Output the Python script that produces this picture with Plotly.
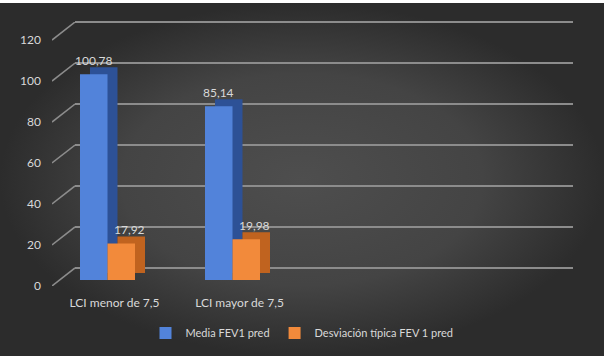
import plotly.graph_objects as go

# ---------------- data ----------------
categories = ["LCI menor de 7,5", "LCI mayor de 7,5"]
series_names = ["Media FEV1 pred", "Desviación típica FEV 1 pred"]
media_fev1 = [100.78, 85.14]
desv_fev1 = [17.92, 19.98]
y_ticks = [0, 20, 40, 60, 80, 100, 120]

# ---------------- style ----------------
W, H = 604, 356
FONT = "Lato"
TXT = "#d9d9d9"
GRID = "#8c8c8c"
FRONT = ["#5283da", "#f28a3b"]
SIDE = ["#2d5196", "#c0631f"]
LABEL_XSHIFT = [-14, 22]
LABEL_YSHIFT = 14


def px(a):
    return a / W


def py(b):
    return 1 - b / H


fig = go.Figure()

# background gradient (subplot x/y)
fig.add_trace(go.Scatter(
    x=[0, 1, 1, 0, 0], y=[0, 0, 1, 1, 0], mode="lines", fill="toself",
    line=dict(width=0), hoverinfo="skip", showlegend=False,
    fillgradient=dict(type="radial",
                      colorscale=[[0, "#4e4e4e"], [0.6, "#444444"], [1, "#2c2c2c"]]),
    xaxis="x", yaxis="y"))

# back wall grid (x2/y2)
back_scale = (268 - 22) / 120
fig.add_trace(go.Scatter(x=[0], y=[0], mode="markers", marker=dict(opacity=0),
                         hoverinfo="skip", showlegend=False, xaxis="x2", yaxis="y2"))

# depth (3D side/top) bars (x3/y3)
for vals, col in zip([media_fev1, desv_fev1], SIDE):
    fig.add_trace(go.Bar(x=categories, y=vals, marker=dict(color=col, line=dict(width=0)),
                         showlegend=False, hoverinfo="skip", xaxis="x3", yaxis="y3"))

# front bars (x4/y4)
for name, vals, col in zip(series_names, [media_fev1, desv_fev1], FRONT):
    fig.add_trace(go.Bar(x=categories, y=vals, name=name,
                         marker=dict(color=col, line=dict(width=0)),
                         xaxis="x4", yaxis="y4"))

# value labels
annotations = []
for vals, xs in zip([media_fev1, desv_fev1], LABEL_XSHIFT):
    for c, v in zip(categories, vals):
        annotations.append(dict(
            x=c, y=v, xref="x4", yref="y4", text=f"{v:.2f}".replace(".", ","),
            showarrow=False, xshift=xs, yshift=LABEL_YSHIFT, yanchor="middle",
            font=dict(family=FONT, size=12, color=TXT)))

# front axis labels + diagonal connectors (x5/y5)
depth_units = 18 / (245 / 120)
cx, cy = [], []
for v in y_ticks:
    cx += [0, 1, None]
    cy += [v, v + depth_units, None]
fig.add_trace(go.Scatter(x=cx, y=cy, mode="lines", line=dict(color=GRID, width=1.5),
                         hoverinfo="skip", showlegend=False, cliponaxis=False,
                         xaxis="x5", yaxis="y5"))

hidden = dict(showgrid=False, zeroline=False, showticklabels=False, showline=False,
              ticks="", automargin=False)
pad = 2  # units of extra range so edge gridlines are drawn

fig.update_layout(
    width=W, height=H, margin=dict(l=0, r=0, t=0, b=0, autoexpand=False),
    paper_bgcolor="white", plot_bgcolor="rgba(0,0,0,0)",
    barmode="group", bargap=0.56, bargroupgap=0,
    font=dict(family=FONT, size=12, color=TXT),
    separators=",.",
    xaxis=dict(domain=[0, 1], range=[0, 1], anchor="y", **hidden),
    yaxis=dict(domain=[0, py(3)], range=[0, 1], anchor="x", **hidden),
    xaxis2=dict(domain=[px(75), px(573)], range=[0, 1], anchor="y2", **hidden),
    yaxis2=dict(domain=[py(268 + pad * back_scale), py(22 - pad * back_scale)],
                range=[-pad, 120 + pad], anchor="x2",
                showgrid=True, gridcolor=GRID, gridwidth=1.5,
                tickmode="array", tickvals=y_ticks,
                zeroline=False, showticklabels=False, showline=False, ticks="",
                automargin=False),
    xaxis3=dict(domain=[px(55), px(555)], range=[-0.5, 3.5], anchor="y3", **hidden),
    yaxis3=dict(domain=[py(273), py(28)], range=[0, 120], anchor="x3", **hidden),
    xaxis4=dict(domain=[px(45), px(545)], range=[-0.5, 3.5], anchor="y4",
                showgrid=False, zeroline=False, showline=False, ticks="",
                tickfont=dict(family=FONT, size=12, color=TXT),
                ticklabelstandoff=14, ticklabelshift=7, automargin=False),
    yaxis4=dict(domain=[py(280), py(35)], range=[0, 120], anchor="x4", **hidden),
    xaxis5=dict(domain=[px(52), px(75)], range=[0, 1], anchor="y5", **hidden),
    yaxis5=dict(domain=[py(286), py(22)], range=[0, 120 + depth_units], anchor="x5",
                showgrid=False, zeroline=False, showline=False, ticks="",
                tickmode="array", tickvals=y_ticks,
                tickfont=dict(family=FONT, size=12, color=TXT),
                ticklabelstandoff=10, automargin=False),
    legend=dict(orientation="h", x=0.5, xanchor="center", y=py(333), yanchor="middle",
                bgcolor="rgba(0,0,0,0)", font=dict(family=FONT, size=11, color=TXT)),
    annotations=annotations,
)

fig.write_html("out.html", config={"displayModeBar": False},
               post_script="document.body.style.margin='0';document.body.style.padding='0';")
